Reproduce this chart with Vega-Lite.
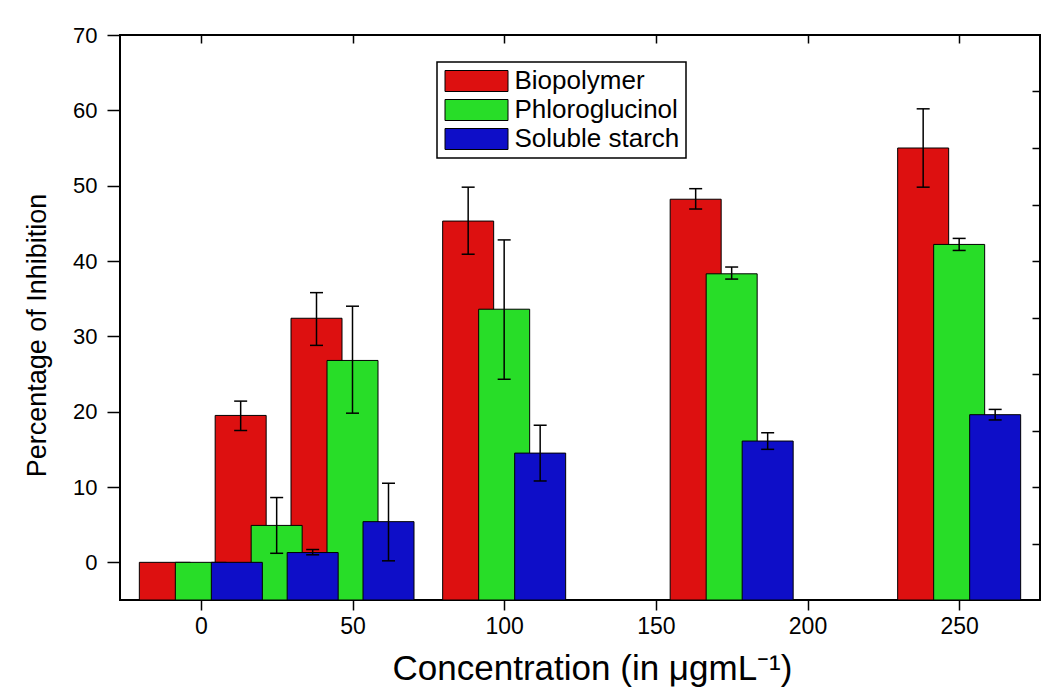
{
  "$schema": "https://vega.github.io/schema/vega-lite/v6.json",
  "width": 920,
  "height": 565,
  "autosize": {"type": "none"},
  "padding": {"left": 120, "top": 35, "right": 6, "bottom": 94},
  "background": "white",
  "config": {
    "font": "Liberation Sans",
    "view": {"stroke": "black", "strokeWidth": 2},
    "axis": {"tickColor": "black", "tickWidth": 1.5, "domain": false, "grid": false, "labelColor": "black", "titleColor": "black", "titleFontWeight": "normal", "labelFont": "Liberation Sans", "titleFont": "Liberation Sans"}
  },
  "data": {
    "values": [
      {"conc": 0, "series": "Biopolymer", "value": 0, "lo": null, "hi": null},
      {"conc": 25, "series": "Biopolymer", "value": 19.5, "lo": 17.5, "hi": 21.4},
      {"conc": 50, "series": "Biopolymer", "value": 32.4, "lo": 28.8, "hi": 35.8},
      {"conc": 100, "series": "Biopolymer", "value": 45.3, "lo": 40.9, "hi": 49.8},
      {"conc": 175, "series": "Biopolymer", "value": 48.2, "lo": 46.9, "hi": 49.6},
      {"conc": 250, "series": "Biopolymer", "value": 55.0, "lo": 49.8, "hi": 60.2},
      {"conc": 0, "series": "Phloroglucinol", "value": 0, "lo": null, "hi": null},
      {"conc": 25, "series": "Phloroglucinol", "value": 4.9, "lo": 1.2, "hi": 8.6},
      {"conc": 50, "series": "Phloroglucinol", "value": 26.8, "lo": 19.8, "hi": 34.0},
      {"conc": 100, "series": "Phloroglucinol", "value": 33.6, "lo": 24.3, "hi": 42.8},
      {"conc": 175, "series": "Phloroglucinol", "value": 38.3, "lo": 37.6, "hi": 39.2},
      {"conc": 250, "series": "Phloroglucinol", "value": 42.2, "lo": 41.4, "hi": 43.0},
      {"conc": 0, "series": "Soluble starch", "value": 0, "lo": null, "hi": null},
      {"conc": 25, "series": "Soluble starch", "value": 1.3, "lo": 1.0, "hi": 1.7},
      {"conc": 50, "series": "Soluble starch", "value": 5.4, "lo": 0.2, "hi": 10.5},
      {"conc": 100, "series": "Soluble starch", "value": 14.5, "lo": 10.8, "hi": 18.2},
      {"conc": 175, "series": "Soluble starch", "value": 16.1, "lo": 15.0, "hi": 17.2},
      {"conc": 250, "series": "Soluble starch", "value": 19.6, "lo": 18.9, "hi": 20.3}
    ]
  },
  "resolve": {"scale": {"x": "shared", "y": "shared"}, "axis": {"x": "independent", "y": "independent"}},
  "layer": [
    {
      "transform": [{"filter": "datum.series === 'Biopolymer'"}],
      "mark": {"type": "bar", "xOffset": -36, "width": 51, "stroke": "black", "strokeWidth": 1},
      "encoding": {
        "x": {"field": "conc", "type": "quantitative", "scale": {"domain": [-25, 275], "nice": false, "zero": false},
          "axis": {"orient": "bottom", "values": [0, 50, 100, 150, 200, 250], "tickSize": 10, "labelFontSize": 23, "labelPadding": 5, "title": "Concentration (in μgmL⁻¹)", "titleFontSize": 35, "titleX": 472, "titleY": 68, "titleBaseline": "middle", "titleAlign": "center"}},
        "y": {"field": "value", "type": "quantitative", "scale": {"domain": [-5, 70], "nice": false, "zero": false},
          "axis": {"orient": "left", "values": [0, 10, 20, 30, 40, 50, 60, 70], "tickSize": 13, "labelFontSize": 22, "labelPadding": 10, "title": "Percentage of Inhibition", "titleFontSize": 27, "titleX": -83, "titleY": 300, "titleAngle": -90, "titleBaseline": "middle", "titleAlign": "center"}},
        "y2": {"datum": -5},
        "color": {"field": "series", "type": "nominal",
          "scale": {"domain": ["Biopolymer", "Phloroglucinol", "Soluble starch"], "range": ["#dd1010", "#28dd28", "#0e0ec8"]},
          "legend": {"orient": "none", "legendX": 317, "legendY": 27, "title": null, "symbolType": "M-3,-1H3V1H-3Z", "symbolSize": 441, "symbolOffset": 20.5, "symbolStrokeColor": "black", "symbolStrokeWidth": 1, "symbolOpacity": 1, "labelFontSize": 26, "labelFont": "Liberation Sans", "labelColor": "black", "labelOffset": 25, "labelLimit": 500, "strokeColor": "black", "fillColor": "white", "padding": 6, "rowPadding": 3,
            "encode": {"legend": {"update": {"strokeWidth": {"value": 1.5}}}}}}
      }
    },
    {
      "transform": [{"filter": "datum.series === 'Biopolymer' && datum.lo != null"}],
      "layer": [
        {
          "mark": {"type": "rule", "xOffset": -36, "strokeWidth": 1.5, "color": "black"},
          "encoding": {
            "x": {"field": "conc", "type": "quantitative", "scale": {"domain": [-25, 275], "nice": false, "zero": false},
              "axis": {"orient": "bottom", "values": [25, 75, 125, 175, 225], "tickSize": 6, "labels": false, "title": null}},
            "y": {"field": "lo", "type": "quantitative", "scale": {"domain": [-5, 70], "nice": false, "zero": false},
              "axis": {"orient": "left", "values": [5, 15, 25, 35, 45, 55, 65], "tickSize": 6, "labels": false, "title": null}},
            "y2": {"field": "hi"}
          }
        },
        {
          "mark": {"type": "tick", "orient": "horizontal", "xOffset": -36, "size": 13, "thickness": 1.5, "color": "black", "opacity": 1},
          "encoding": {
            "x": {"field": "conc", "type": "quantitative", "scale": {"domain": [-25, 275], "nice": false, "zero": false}, "axis": null},
            "y": {"field": "lo", "type": "quantitative", "scale": {"domain": [-5, 70], "nice": false, "zero": false}, "axis": null}
          }
        },
        {
          "mark": {"type": "tick", "orient": "horizontal", "xOffset": -36, "size": 13, "thickness": 1.5, "color": "black", "opacity": 1},
          "encoding": {
            "x": {"field": "conc", "type": "quantitative", "scale": {"domain": [-25, 275], "nice": false, "zero": false}, "axis": null},
            "y": {"field": "hi", "type": "quantitative", "scale": {"domain": [-5, 70], "nice": false, "zero": false}, "axis": null}
          }
        }
      ]
    },
    {
      "transform": [{"filter": "datum.series === 'Phloroglucinol'"}],
      "mark": {"type": "bar", "xOffset": 0, "width": 51, "stroke": "black", "strokeWidth": 1},
      "encoding": {
        "x": {"field": "conc", "type": "quantitative", "scale": {"domain": [-25, 275], "nice": false, "zero": false},
          "axis": {"orient": "top", "values": [0, 50, 100, 150, 200, 250], "tickSize": -8, "labels": false, "title": null}},
        "y": {"field": "value", "type": "quantitative", "scale": {"domain": [-5, 70], "nice": false, "zero": false},
          "axis": {"orient": "right", "values": [2.5, 10, 17.5, 25, 32.5, 40, 47.5, 55, 62.5], "tickSize": -8, "labels": false, "title": null}},
        "y2": {"datum": -5},
        "color": {"field": "series", "type": "nominal",
          "scale": {"domain": ["Biopolymer", "Phloroglucinol", "Soluble starch"], "range": ["#dd1010", "#28dd28", "#0e0ec8"]}, "legend": null}
      }
    },
    {
      "transform": [{"filter": "datum.series === 'Phloroglucinol' && datum.lo != null"}],
      "layer": [
        {
          "mark": {"type": "rule", "xOffset": 0, "strokeWidth": 1.5, "color": "black"},
          "encoding": {
            "x": {"field": "conc", "type": "quantitative", "scale": {"domain": [-25, 275], "nice": false, "zero": false},
              "axis": {"orient": "top", "values": [25, 75, 125, 175, 225], "tickSize": -5, "labels": false, "title": null}},
            "y": {"field": "lo", "type": "quantitative", "scale": {"domain": [-5, 70], "nice": false, "zero": false}, "axis": null},
            "y2": {"field": "hi"}
          }
        },
        {
          "mark": {"type": "tick", "orient": "horizontal", "xOffset": 0, "size": 13, "thickness": 1.5, "color": "black", "opacity": 1},
          "encoding": {
            "x": {"field": "conc", "type": "quantitative", "scale": {"domain": [-25, 275], "nice": false, "zero": false}, "axis": null},
            "y": {"field": "lo", "type": "quantitative", "scale": {"domain": [-5, 70], "nice": false, "zero": false}, "axis": null}
          }
        },
        {
          "mark": {"type": "tick", "orient": "horizontal", "xOffset": 0, "size": 13, "thickness": 1.5, "color": "black", "opacity": 1},
          "encoding": {
            "x": {"field": "conc", "type": "quantitative", "scale": {"domain": [-25, 275], "nice": false, "zero": false}, "axis": null},
            "y": {"field": "hi", "type": "quantitative", "scale": {"domain": [-5, 70], "nice": false, "zero": false}, "axis": null}
          }
        }
      ]
    },
    {
      "transform": [{"filter": "datum.series === 'Soluble starch'"}],
      "mark": {"type": "bar", "xOffset": 36, "width": 51, "stroke": "black", "strokeWidth": 1},
      "encoding": {
        "x": {"field": "conc", "type": "quantitative", "scale": {"domain": [-25, 275], "nice": false, "zero": false}, "axis": null},
        "y": {"field": "value", "type": "quantitative", "scale": {"domain": [-5, 70], "nice": false, "zero": false}, "axis": null},
        "y2": {"datum": -5},
        "color": {"field": "series", "type": "nominal",
          "scale": {"domain": ["Biopolymer", "Phloroglucinol", "Soluble starch"], "range": ["#dd1010", "#28dd28", "#0e0ec8"]}, "legend": null}
      }
    },
    {
      "transform": [{"filter": "datum.series === 'Soluble starch' && datum.lo != null"}],
      "layer": [
        {
          "mark": {"type": "rule", "xOffset": 36, "strokeWidth": 1.5, "color": "black"},
          "encoding": {
            "x": {"field": "conc", "type": "quantitative", "scale": {"domain": [-25, 275], "nice": false, "zero": false}, "axis": null},
            "y": {"field": "lo", "type": "quantitative", "scale": {"domain": [-5, 70], "nice": false, "zero": false}, "axis": null},
            "y2": {"field": "hi"}
          }
        },
        {
          "mark": {"type": "tick", "orient": "horizontal", "xOffset": 36, "size": 13, "thickness": 1.5, "color": "black", "opacity": 1},
          "encoding": {
            "x": {"field": "conc", "type": "quantitative", "scale": {"domain": [-25, 275], "nice": false, "zero": false}, "axis": null},
            "y": {"field": "lo", "type": "quantitative", "scale": {"domain": [-5, 70], "nice": false, "zero": false}, "axis": null}
          }
        },
        {
          "mark": {"type": "tick", "orient": "horizontal", "xOffset": 36, "size": 13, "thickness": 1.5, "color": "black", "opacity": 1},
          "encoding": {
            "x": {"field": "conc", "type": "quantitative", "scale": {"domain": [-25, 275], "nice": false, "zero": false}, "axis": null},
            "y": {"field": "hi", "type": "quantitative", "scale": {"domain": [-5, 70], "nice": false, "zero": false}, "axis": null}
          }
        }
      ]
    }
  ]
}
